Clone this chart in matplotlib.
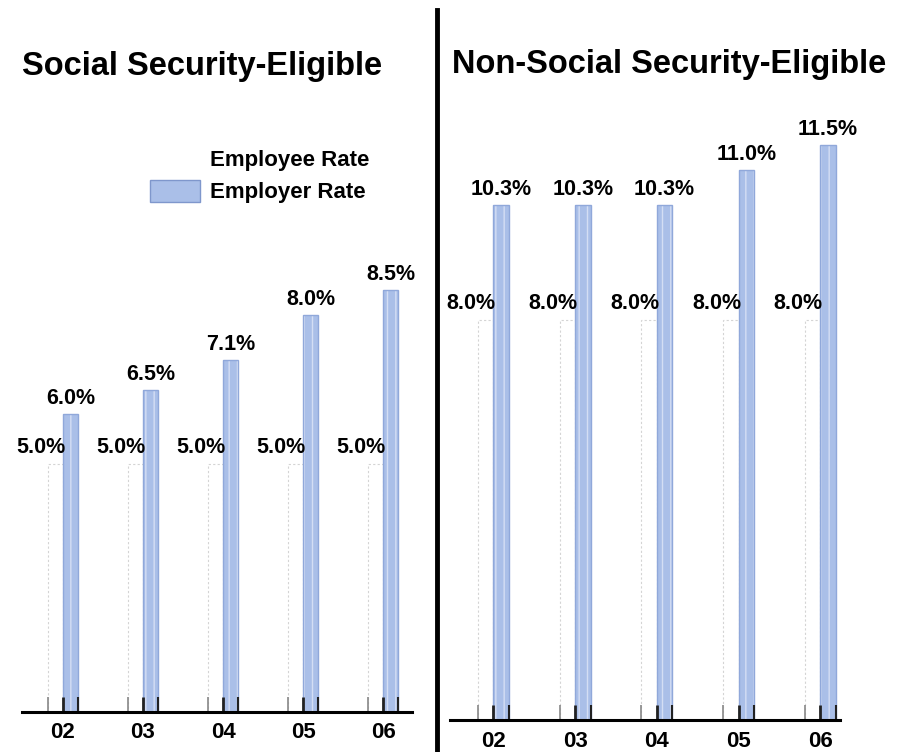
import matplotlib.pyplot as plt
from matplotlib.patches import Patch
from matplotlib.lines import Line2D
import numpy as np

plt.rcParams['font.family'] = ['Liberation Sans', 'DejaVu Sans']
plt.rcParams['font.weight'] = 'bold'

years = ['02', '03', '04', '05', '06']

# Social Security-eligible
ss_employee = [5.0, 5.0, 5.0, 5.0, 5.0]
ss_employer = [6.0, 6.5, 7.1, 8.0, 8.5]

# Non-Social Security-eligible
nss_employee = [8.0, 8.0, 8.0, 8.0, 8.0]
nss_employer = [10.3, 10.3, 10.3, 11.0, 11.5]

BLUE = '#aabfe8'
BLUE_EDGE = '#90a8da'
STRIPE = '#d4def4'
W, H = 901, 752

fig = plt.figure(figsize=(W / 100, H / 100), dpi=100)


def panel(rect, xlim, emp, empr, title, title_xy, tick_pad):
    ax = fig.add_axes(rect)
    x = np.arange(len(years))
    bw = 0.19
    ax.bar(x - bw / 2, emp, bw, color='white', edgecolor='#d4d4d4',
           linewidth=0.8, linestyle=(0, (2, 2)))
    # striped fill, then outline
    ax.bar(x + bw / 2, empr, bw, color=BLUE, edgecolor=STRIPE, linewidth=0,
           hatch='||')
    ax.bar(x + bw / 2, empr, bw, fill=False, edgecolor=BLUE_EDGE, linewidth=1)
    # small dark marks at the foot of the bars
    ax.vlines(x - bw, 0, 0.3, color='#888888', linewidth=1.2)
    ax.vlines(x, 0, 0.3, color='#222222', linewidth=2)
    ax.vlines(x + bw, 0, 0.3, color='#222222', linewidth=1.5)
    for xi, a, b in zip(x, emp, empr):
        ax.text(xi + 0.03, a + 0.12, f'{a:.1f}%', ha='right', va='bottom',
                fontsize=15.5, fontweight='bold')
        ax.text(xi + bw / 2, b + 0.1, f'{b:.1f}%', ha='center', va='bottom',
                fontsize=15.5, fontweight='bold')
    ax.set_xlim(*xlim)
    ax.set_ylim(0, 13)
    for s in ['left', 'right', 'top']:
        ax.spines[s].set_visible(False)
    ax.spines['bottom'].set_linewidth(2.2)
    ax.set_yticks([])
    ax.set_xticks(x)
    ax.set_xticklabels(years, fontsize=16, fontweight='bold')
    ax.tick_params(axis='x', length=0, pad=tick_pad)
    fig.text(title_xy[0] / W, 1 - title_xy[1] / H, title, fontsize=23.5,
             fontweight='bold', ha='left', va='center')
    return ax


# left panel: baseline y=712, ~49.6 px per %
ax1 = panel([22 / W, (H - 712) / H, 390 / W, 13 * 49.6 / H], (-0.51, 4.36),
            ss_employee, ss_employer, 'Social Security-Eligible', (22, 67), 7)
# right panel: baseline y=720, ~50 px per %
ax2 = panel([450 / W, (H - 720) / H, 390 / W, 13 * 50 / H], (-0.53, 4.24),
            nss_employee, nss_employer, 'Non-Social Security-Eligible', (452, 65), 8)

handles = [Patch(facecolor='white', edgecolor='none'),
           Patch(facecolor=BLUE, edgecolor='#7f97cc')]
fig.legend(handles, ['Employee Rate', 'Employer Rate'], loc='upper left',
           bbox_to_anchor=(132 / W, 1 - 129 / H), frameon=False,
           handlelength=2.25, handleheight=1.2, labelspacing=0.4,
           handletextpad=0.45, borderpad=0.3,
           prop={'weight': 'bold', 'size': 16})

# divider
fig.add_artist(Line2D([437 / W, 437 / W], [0.0, 1 - 10 / H], color='black',
                      linewidth=3.5))

fig.savefig('out.png', dpi=100)
